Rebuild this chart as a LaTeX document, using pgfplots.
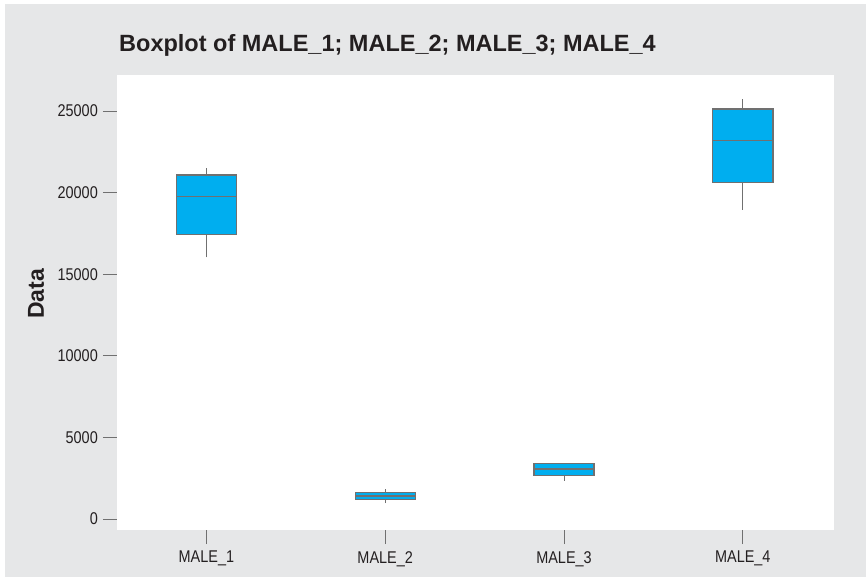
\documentclass[border=0pt]{standalone}
\usepackage{fontspec}
\setmainfont{Liberation Sans}[FakeStretch=0.85]
\newfontfamily\titlefont{Liberation Sans}
\usepackage{pgfplots}
\pgfplotsset{compat=1.18}
\definecolor{bgray}{HTML}{E6E7E8}
\definecolor{boxcyan}{RGB}{0,174,239}
\definecolor{edgegray}{HTML}{707070}
\definecolor{txt}{HTML}{231F20}
\begin{document}
\begin{tikzpicture}
\path[use as bounding box] (-117pt,-48pt) rectangle (749pt,530pt);
\fill[bgray] (-112pt,-47pt) rectangle (749pt,526pt);
\begin{axis}[
  at={(0pt,0pt)}, anchor=south west,
  scale only axis, width=717pt, height=455pt,
  xmin=0.5, xmax=4.51, ymin=-674, ymax=27206,
  axis background/.style={fill=white},
  axis line style={draw=none},
  tick align=outside, major tick length=14pt,
  tick style={edgegray, line width=0.8pt},
  xtick pos=bottom, ytick pos=left,
  xtick={1,2,3,4}, xticklabels={MALE\_1,MALE\_2,MALE\_3,MALE\_4},
  ytick={0,5000,10000,15000,20000,25000},
  scaled y ticks=false,
  /pgf/number format/1000 sep={},
  /pgf/number format/assume math mode=true,
  ticklabel style={font=\fontsize{17}{17}\selectfont, text=txt},
  yticklabel style={inner sep=0pt, xshift=-5pt},
  xticklabel style={inner sep=0pt, yshift=-7pt},
  clip=false,
  box/.style={fill=boxcyan, draw=edgegray, line width=1.3pt, mark=none},
  wh/.style={draw=edgegray, line width=1pt, mark=none},
]
% MALE_1
\addplot[wh] coordinates {(1,16035) (1,17445)};
\addplot[wh] coordinates {(1,21078) (1,21489)};
\addplot[box] coordinates {(0.832,17445) (1.168,17445) (1.168,21078) (0.832,21078)} -- cycle;
\addplot[box, fill=none] coordinates {(0.832,19749) (1.168,19749)};
% MALE_2
\addplot[wh] coordinates {(2,980) (2,1183)};
\addplot[wh] coordinates {(2,1612) (2,1818)};
\addplot[box] coordinates {(1.832,1183) (2.168,1183) (2.168,1612) (1.832,1612)} -- cycle;
\addplot[box, fill=none] coordinates {(1.832,1409) (2.168,1409)};
% MALE_3
\addplot[wh] coordinates {(3,2347) (3,2677)};
\addplot[box] coordinates {(2.832,2677) (3.168,2677) (3.168,3413) (2.832,3413)} -- cycle;
\addplot[box, fill=none] coordinates {(2.832,3064) (3.168,3064)};
% MALE_4
\addplot[wh] coordinates {(4,18934) (4,20607)};
\addplot[wh] coordinates {(4,25123) (4,25735)};
\addplot[box] coordinates {(3.832,20607) (4.168,20607) (4.168,25123) (3.832,25123)} -- cycle;
\addplot[box, fill=none] coordinates {(3.832,23205) (4.168,23205)};
\end{axis}
\node[anchor=base west, inner sep=0pt, text=txt, font=\titlefont\bfseries\fontsize{23.5}{23.5}\selectfont]
  at (2pt,478.3pt) {Boxplot of MALE\_1; MALE\_2; MALE\_3; MALE\_4};
\node[rotate=90, inner sep=0pt, text=txt, font=\titlefont\bfseries\fontsize{23}{23}\selectfont]
  at (-81pt,236pt) {Data};
\end{tikzpicture}
\end{document}
